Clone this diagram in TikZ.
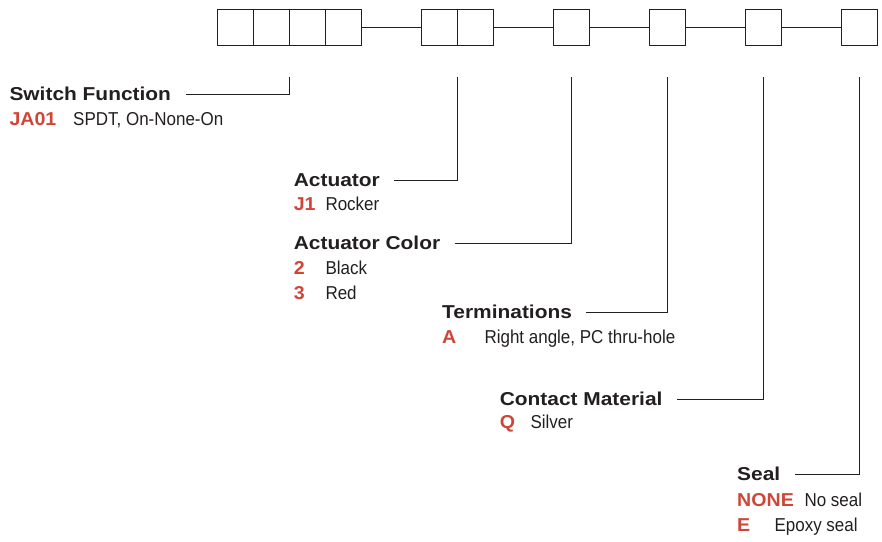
\documentclass[tikz,border=0pt]{standalone}
\usepackage{xcolor}
\usepackage{fontspec}
\setmainfont{Liberation Sans}
\newfontfamily\headfont[FakeStretch=1.12]{Liberation Sans Bold}
\newfontfamily\codefont[FakeStretch=1.05]{Liberation Sans Bold}
\newfontfamily\descfont[FakeStretch=0.91]{Liberation Sans}
\usetikzlibrary{positioning}
\definecolor{partred}{RGB}{207,70,56}
\definecolor{partgray}{RGB}{35,31,32}

\begin{document}
\begin{tikzpicture}[x=0.75pt, y=-0.75pt, line width=0.8pt,
    cell/.style={draw=partgray, minimum size=27pt, inner sep=0, outer sep=0},
    head/.style={anchor=base west, inner sep=0, text=partgray, font=\fontsize{14}{16}\headfont},
    code/.style={anchor=base west, inner sep=0, text=partred, font=\fontsize{14}{16}\codefont},
    desc/.style={anchor=base west, inner sep=0, text=partgray, font=\fontsize{14}{16}\descfont},
    lead/.style={draw=partgray}]
    \useasboundingbox (0,0) rectangle (882,542);

    \node[cell] (b1) at (235.5,27.5) {};
    \node[cell, right=0pt of b1] (b2) {};
    \node[cell, right=0pt of b2] (b3) {};
    \node[cell, right=0pt of b3] (b4) {};
    \node[cell, right=45pt of b4] (b5) {};
    \node[cell, right=0pt of b5] (b6) {};
    \node[cell, right=45pt of b6] (b7) {};
    \node[cell, right=45pt of b7] (b8) {};
    \node[cell, right=45pt of b8] (b9) {};
    \node[cell, right=45pt of b9] (b10) {};
    \draw[lead] (b4) -- (b5);
    \draw[lead] (b6) -- (b7);
    \draw[lead] (b7) -- (b8);
    \draw[lead] (b8) -- (b9);
    \draw[lead] (b9) -- (b10);

    \coordinate[below=24pt of b2.south east] (t1);
    \coordinate[below=24pt of b5.south east] (t2);
    \coordinate[below=24pt of b7.south] (t3);
    \coordinate[below=24pt of b8.south] (t4);
    \coordinate[below=24pt of b9.south] (t5);
    \coordinate[below=24pt of b10.south] (t6);

    \node[head] (sf) at (9,100.7) {Switch Function};
    \node[code] (sf1) at (9,125) {JA01};
    \node[desc] (sf1d) at (72.7,125) {SPDT, On-None-On};
    \draw[lead] ([xshift=10.5pt,yshift=1.8pt]sf.mid east) -| (t1);

    \node[head] (act) at (293.3,186) {Actuator};
    \node[code] (act1) at (293.3,210.7) {J1};
    \node[desc] (act1d) at (325,210.7) {Rocker};
    \draw[lead] ([xshift=10.5pt,yshift=1.8pt]act.mid east) -| (t2);

    \node[head] (col) at (293.3,249.3) {Actuator Color};
    \node[code] (col1) at (293.3,274.3) {2};
    \node[desc] (col1d) at (325,274.3) {Black};
    \node[code] (col2) at (293.3,299.3) {3};
    \node[desc] (col2d) at (325,299.3) {Red};
    \draw[lead] ([xshift=10.5pt,yshift=1.8pt]col.mid east) -| (t3);

    \node[head] (term) at (441.7,318.3) {Terminations};
    \node[code] (term1) at (441.7,343.3) {A};
    \node[desc] (term1d) at (484,343.3) {Right angle, PC thru-hole};
    \draw[lead] ([xshift=10.5pt,yshift=1.8pt]term.mid east) -| (t4);

    \node[head] (cont) at (499.3,405) {Contact Material};
    \node[code] (cont1) at (499.3,428) {Q};
    \node[desc] (cont1d) at (530,428) {Silver};
    \draw[lead] ([xshift=10.5pt,yshift=1.8pt]cont.mid east) -| (t5);

    \node[head] (seal) at (736.7,480.7) {Seal};
    \node[code] (seal1) at (736.7,506) {NONE};
    \node[desc] (seal1d) at (804,506) {No seal};
    \node[code] (seal2) at (736.7,531) {E};
    \node[desc] (seal2d) at (774,531) {Epoxy seal};
    \draw[lead] ([xshift=10.5pt,yshift=1.8pt]seal.mid east) -| (t6);
\end{tikzpicture}
\end{document}
